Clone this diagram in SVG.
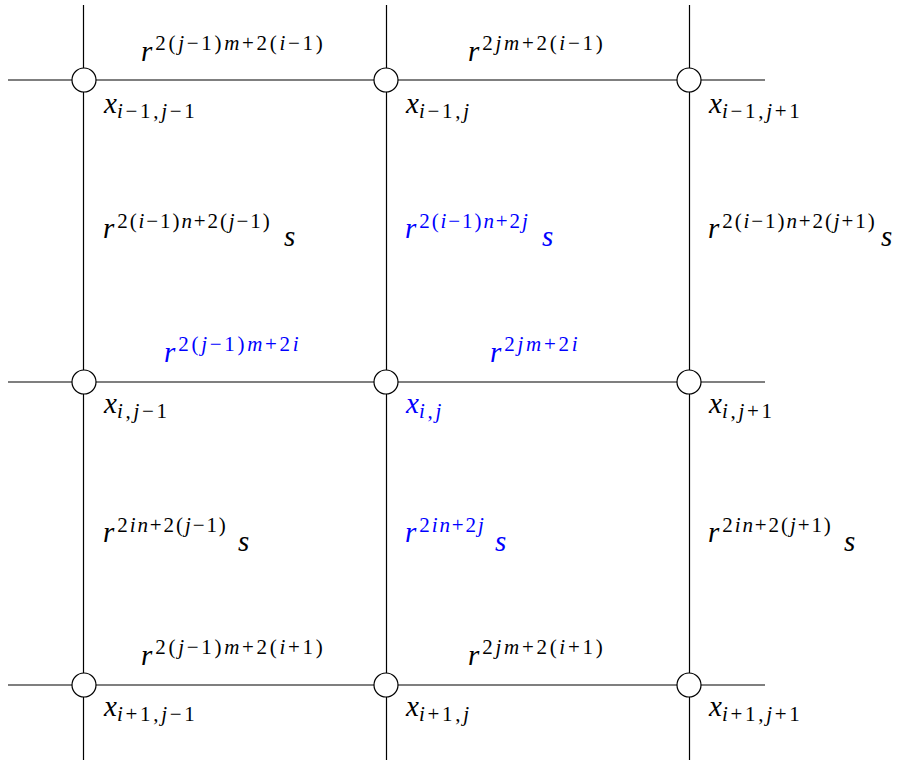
<svg xmlns="http://www.w3.org/2000/svg" width="904" height="761" viewBox="0 0 904 761">
<style>
text{font-family:"Liberation Serif","Times New Roman",serif;font-size:29px;fill:#000}
.it{font-style:italic}
.sp{font-size:21px;letter-spacing:2.7px}
.sv{font-size:21px;letter-spacing:1.9px}
.blue{fill:#0000ff}
line{stroke:#000;stroke-width:1.2}
circle{fill:#fff;stroke:#000;stroke-width:1.2}
</style>
<rect width="904" height="761" fill="#fff"/>
<g id="connectors">
<line x1="83.5" y1="5" x2="83.5" y2="760"/>
<line x1="386.5" y1="5" x2="386.5" y2="760"/>
<line x1="689.5" y1="5" x2="689.5" y2="760"/>
<line x1="8" y1="80" x2="765" y2="80"/>
<line x1="8" y1="382" x2="765" y2="382"/>
<line x1="8" y1="685" x2="765" y2="685"/>
</g>
<g id="edge-labels">
<text x="141" y="61"><tspan class="it">r</tspan><tspan class="sp" dx="3" dy="-11">2(<tspan class="it">j</tspan>−1)<tspan class="it">m</tspan>+2(<tspan class="it">i</tspan>−1)</tspan></text>
<text x="468" y="61"><tspan class="it">r</tspan><tspan class="sp" dx="3" dy="-11">2<tspan class="it">jm</tspan>+2(<tspan class="it">i</tspan>−1)</tspan></text>
<text x="164" y="362" class="blue"><tspan class="it">r</tspan><tspan class="sp" dx="3" dy="-11">2(<tspan class="it">j</tspan>−1)<tspan class="it">m</tspan>+2<tspan class="it">i</tspan></tspan></text>
<text x="490" y="362" class="blue"><tspan class="it">r</tspan><tspan class="sp" dx="3" dy="-11">2<tspan class="it">jm</tspan>+2<tspan class="it">i</tspan></tspan></text>
<text x="141" y="665"><tspan class="it">r</tspan><tspan class="sp" dx="3" dy="-11">2(<tspan class="it">j</tspan>−1)<tspan class="it">m</tspan>+2(<tspan class="it">i</tspan>+1)</tspan></text>
<text x="468" y="665"><tspan class="it">r</tspan><tspan class="sp" dx="3" dy="-11">2<tspan class="it">jm</tspan>+2(<tspan class="it">i</tspan>+1)</tspan></text>
<text x="103" y="238"><tspan class="it">r</tspan><tspan class="sv" dx="3" dy="-10">2(<tspan class="it">i</tspan>−1)<tspan class="it">n</tspan>+2(<tspan class="it">j</tspan>−1)</tspan><tspan class="it" x="284" y="246">s</tspan></text>
<text x="405" y="238" class="blue"><tspan class="it">r</tspan><tspan class="sv" dx="3" dy="-10">2(<tspan class="it">i</tspan>−1)<tspan class="it">n</tspan>+2<tspan class="it">j</tspan></tspan><tspan class="it" x="542" y="246">s</tspan></text>
<text x="708" y="238"><tspan class="it">r</tspan><tspan class="sv" dx="3" dy="-10">2(<tspan class="it">i</tspan>−1)<tspan class="it">n</tspan>+2(<tspan class="it">j</tspan>+1)</tspan><tspan class="it" x="881" y="246">s</tspan></text>
<text x="103" y="542"><tspan class="it">r</tspan><tspan class="sv" dx="3" dy="-10">2<tspan class="it">in</tspan>+2(<tspan class="it">j</tspan>−1)</tspan><tspan class="it" x="238" y="551">s</tspan></text>
<text x="405" y="542" class="blue"><tspan class="it">r</tspan><tspan class="sv" dx="3" dy="-10">2<tspan class="it">in</tspan>+2<tspan class="it">j</tspan></tspan><tspan class="it" x="495" y="551">s</tspan></text>
<text x="708" y="542"><tspan class="it">r</tspan><tspan class="sv" dx="3" dy="-10">2<tspan class="it">in</tspan>+2(<tspan class="it">j</tspan>+1)</tspan><tspan class="it" x="844" y="551">s</tspan></text>
</g>
<g id="n-im1-jm1"><circle cx="84" cy="80" r="12"/><text x="104" y="113"><tspan class="it">x</tspan><tspan class="sp" dy="5"><tspan class="it">i</tspan>−1,<tspan class="it">j</tspan>−1</tspan></text></g>
<g id="n-im1-j"><circle cx="386" cy="80" r="12"/><text x="406" y="113"><tspan class="it">x</tspan><tspan class="sp" dy="5"><tspan class="it">i</tspan>−1,<tspan class="it">j</tspan></tspan></text></g>
<g id="n-im1-jp1"><circle cx="689" cy="80" r="12"/><text x="709" y="113"><tspan class="it">x</tspan><tspan class="sp" dy="5"><tspan class="it">i</tspan>−1,<tspan class="it">j</tspan>+1</tspan></text></g>
<g id="n-i-jm1"><circle cx="84" cy="382" r="12"/><text x="104" y="413"><tspan class="it">x</tspan><tspan class="sp" dy="5"><tspan class="it">i</tspan>,<tspan class="it">j</tspan>−1</tspan></text></g>
<g id="n-i-j"><circle cx="386" cy="382" r="12"/><text x="406" y="413" class="blue"><tspan class="it">x</tspan><tspan class="sp" dy="5"><tspan class="it">i</tspan>,<tspan class="it">j</tspan></tspan></text></g>
<g id="n-i-jp1"><circle cx="689" cy="382" r="12"/><text x="709" y="413"><tspan class="it">x</tspan><tspan class="sp" dy="5"><tspan class="it">i</tspan>,<tspan class="it">j</tspan>+1</tspan></text></g>
<g id="n-ip1-jm1"><circle cx="84" cy="685" r="12"/><text x="104" y="716"><tspan class="it">x</tspan><tspan class="sp" dy="5"><tspan class="it">i</tspan>+1,<tspan class="it">j</tspan>−1</tspan></text></g>
<g id="n-ip1-j"><circle cx="386" cy="685" r="12"/><text x="406" y="716"><tspan class="it">x</tspan><tspan class="sp" dy="5"><tspan class="it">i</tspan>+1,<tspan class="it">j</tspan></tspan></text></g>
<g id="n-ip1-jp1"><circle cx="689" cy="685" r="12"/><text x="709" y="716"><tspan class="it">x</tspan><tspan class="sp" dy="5"><tspan class="it">i</tspan>+1,<tspan class="it">j</tspan>+1</tspan></text></g>
</svg>
